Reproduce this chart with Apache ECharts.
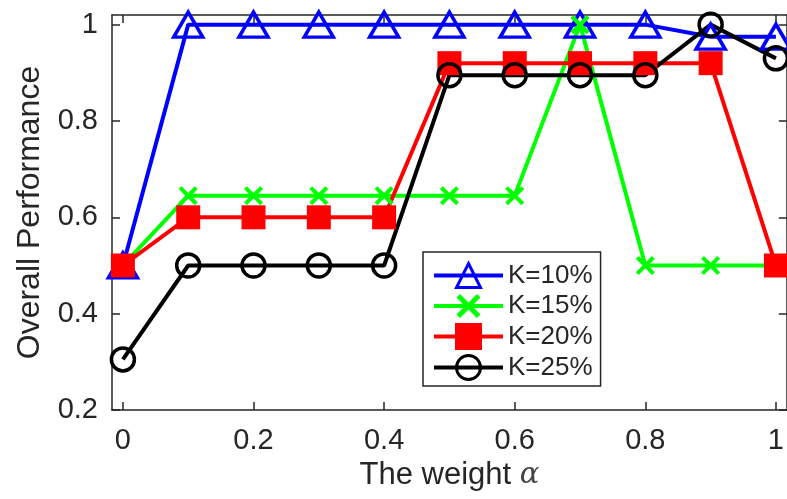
<!DOCTYPE html>
<html>
<head>
<meta charset="utf-8">
<script src="https://cdn.jsdelivr.net/npm/echarts@6/dist/echarts.min.js"></script>
<style>
  html, body { margin: 0; padding: 0; background: #fff; }
  #chart { width: 787px; height: 499px; }
</style>
</head>
<body>
<div id="chart"></div>
<script>
// Weight values on the x axis
const alphas = [0, 0.1, 0.2, 0.3, 0.4, 0.5, 0.6, 0.7, 0.8, 0.9, 1.0];

// Overall performance per K
const k10 = [0.50, 1.00, 1.00, 1.00, 1.00, 1.00, 1.00, 1.00, 1.00, 0.975, 0.975];
const k15 = [0.50, 0.645, 0.645, 0.645, 0.645, 0.645, 0.645, 1.00, 0.50, 0.50, 0.50];
const k20 = [0.50, 0.60, 0.60, 0.60, 0.60, 0.92, 0.92, 0.92, 0.92, 0.92, 0.50];
const k25 = [0.305, 0.50, 0.50, 0.50, 0.50, 0.895, 0.895, 0.895, 0.895, 1.00, 0.93];

const seriesNames = ['K=10%', 'K=15%', 'K=20%', 'K=25%'];

// Tick labels
const xTicks = [0, 0.2, 0.4, 0.6, 0.8, 1];
const yTicks = [0.2, 0.4, 0.6, 0.8, 1];

const AXIS_COLOR = '#262626';
const FONT = '"Liberation Sans", Arial, Helvetica, sans-serif';

// Thick "x" marker
const crossPath = 'path://M0,1.5 L1.5,0 L5,3.5 L8.5,0 L10,1.5 L6.5,5 L10,8.5 L8.5,10 L5,6.5 L1.5,10 L0,8.5 L3.5,5 Z';

const pairs = arr => alphas.map((a, i) => [a, arr[i]]);

const chart = echarts.init(document.getElementById('chart'), null, { renderer: 'canvas' });

const boxAxis = (pos, isX, ticks, showLabels, extra) => Object.assign({
  type: 'value',
  position: pos,
  axisLine: { show: true, onZero: false, lineStyle: { color: AXIS_COLOR, width: 1.5 } },
  axisTick: { show: true, inside: true, length: 8, customValues: ticks, lineStyle: { color: AXIS_COLOR, width: 1.5 } },
  axisLabel: showLabels ? {
    show: true, customValues: ticks, color: AXIS_COLOR, fontSize: 29, fontFamily: FONT,
    margin: isX ? 16 : 14,
    formatter: v => String(v)
  } : { show: false },
  splitLine: { show: false }
}, extra);

const option = {
  animation: false,
  backgroundColor: '#fff',
  grid: { left: 112, right: -5, top: 15, bottom: 89, containLabel: false },
  xAxis: [
    boxAxis('bottom', true, xTicks, true, {
      min: -0.0167, max: 1.0167,
      name: 'The weight {a|α}',
      nameLocation: 'middle',
      nameGap: 47,
      nameTextStyle: {
        color: AXIS_COLOR, fontSize: 31, fontFamily: FONT,
        rich: { a: { fontSize: 29, fontStyle: 'italic', fontFamily: '"DejaVu Serif", "Liberation Serif", serif', color: '#444' } }
      }
    }),
    boxAxis('top', true, xTicks, false, { min: -0.0167, max: 1.0167 })
  ],
  yAxis: [
    boxAxis('left', false, yTicks, true, {
      min: 0.2, max: 1.02,
      name: 'Overall Performance',
      nameLocation: 'middle',
      nameGap: 66,
      nameTextStyle: { color: AXIS_COLOR, fontSize: 32, fontFamily: FONT }
    }),
    boxAxis('right', false, yTicks, false, { min: 0.2, max: 1.02 })
  ],
  legend: {
    orient: 'vertical',
    left: 423,
    top: 252,
    padding: [10, 8, 5, 9],
    itemWidth: 69,
    itemHeight: 30,
    itemGap: 4,
    backgroundColor: '#fff',
    borderColor: AXIS_COLOR,
    borderWidth: 1.5,
    borderRadius: 0,
    textStyle: { color: AXIS_COLOR, fontSize: 26, fontFamily: FONT },
    lineStyle: { width: 4 },
    itemStyle: { borderWidth: 3 },
    data: seriesNames
  },
  series: [
    {
      name: seriesNames[0], type: 'line', data: pairs(k10),
      symbol: 'triangle', symbolSize: [29, 25],
      lineStyle: { color: '#0000ff', width: 4 },
      itemStyle: { color: 'transparent', borderColor: '#0000ff', borderWidth: 3.5 }
    },
    {
      name: seriesNames[1], type: 'line', data: pairs(k15),
      symbol: crossPath, symbolSize: 19,
      lineStyle: { color: '#00ff00', width: 4 },
      itemStyle: { color: '#00ff00', borderWidth: 0 }
    },
    {
      name: seriesNames[2], type: 'line', data: pairs(k20),
      symbol: 'rect', symbolSize: 24,
      lineStyle: { color: '#ff0000', width: 4 },
      itemStyle: { color: '#ff0000', borderColor: '#ff0000', borderWidth: 0 }
    },
    {
      name: seriesNames[3], type: 'line', data: pairs(k25),
      symbol: 'circle', symbolSize: 23,
      lineStyle: { color: '#000000', width: 4 },
      itemStyle: { color: 'transparent', borderColor: '#000000', borderWidth: 3.5 }
    }
  ]
};

chart.setOption(option);
</script>
</body>
</html>
